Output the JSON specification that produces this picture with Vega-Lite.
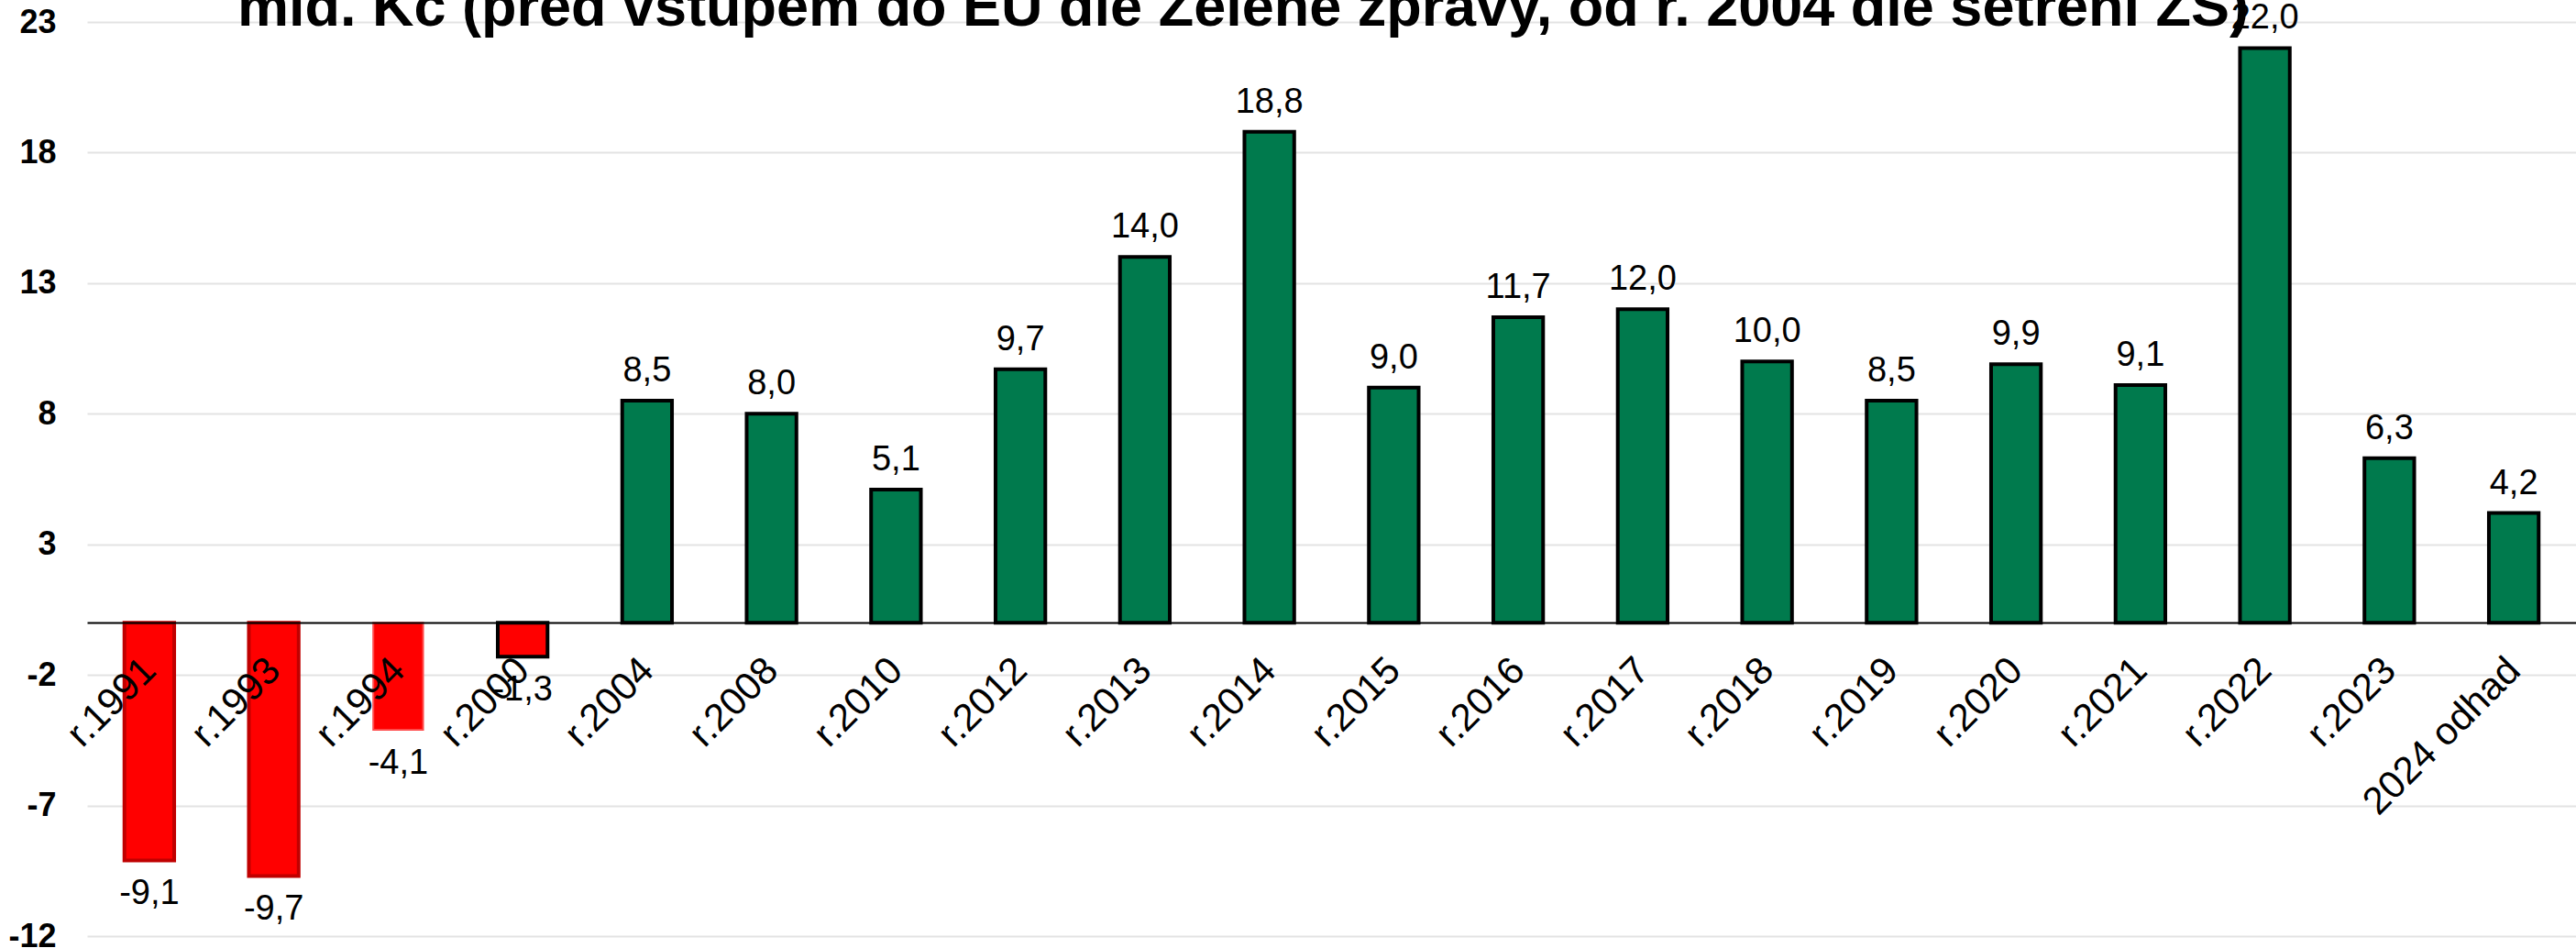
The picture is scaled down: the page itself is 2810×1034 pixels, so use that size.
{
  "$schema": "https://vega.github.io/schema/vega-lite/v6.json",
  "width": 2715,
  "height": 997,
  "autosize": {"type": "none"},
  "padding": {"left": 95, "top": 24, "right": 0, "bottom": 13},
  "background": "white",
  "title": {
    "text": "mld. Kč (před vstupem do EU dle Zelené zprávy, od r. 2004 dle šetření ZS)",
    "font": "Liberation Sans",
    "fontSize": 63,
    "fontWeight": "bold",
    "color": "black",
    "anchor": "start",
    "frame": "group",
    "dx": 164,
    "offset": -40,
    "baseline": "top"
  },
  "config": {
    "view": {"stroke": null},
    "font": "Liberation Sans",
    "locale": {
      "number": {"decimal": ",", "thousands": " ", "grouping": [3], "currency": ["", " Kč"], "minus": "-"}
    }
  },
  "data": {
    "values": [
      {"rok": "r.1991", "hodnota": -9.1},
      {"rok": "r.1993", "hodnota": -9.7},
      {"rok": "r.1994", "hodnota": -4.1},
      {"rok": "r.2000", "hodnota": -1.3},
      {"rok": "r.2004", "hodnota": 8.5},
      {"rok": "r.2008", "hodnota": 8.0},
      {"rok": "r.2010", "hodnota": 5.1},
      {"rok": "r.2012", "hodnota": 9.7},
      {"rok": "r.2013", "hodnota": 14.0},
      {"rok": "r.2014", "hodnota": 18.8},
      {"rok": "r.2015", "hodnota": 9.0},
      {"rok": "r.2016", "hodnota": 11.7},
      {"rok": "r.2017", "hodnota": 12.0},
      {"rok": "r.2018", "hodnota": 10.0},
      {"rok": "r.2019", "hodnota": 8.5},
      {"rok": "r.2020", "hodnota": 9.9},
      {"rok": "r.2021", "hodnota": 9.1},
      {"rok": "r.2022", "hodnota": 22.0},
      {"rok": "r.2023", "hodnota": 6.3},
      {"rok": "2024 odhad", "hodnota": 4.2}
    ]
  },
  "encoding": {
    "x": {
      "field": "rok",
      "type": "nominal",
      "sort": null,
      "scale": {"paddingInner": 0.6, "paddingOuter": 0.3},
      "axis": {
        "title": null,
        "orient": "bottom",
        "offset": -342,
        "zindex": 1,
        "ticks": false,
        "domain": true,
        "domainColor": "black",
        "domainWidth": 2,
        "labelAngle": -45,
        "labelAlign": "right",
        "labelBaseline": "top",
        "labelPadding": 31,
        "labelOffset": -14,
        "labelFont": "Liberation Sans",
        "labelFontSize": 42,
        "labelColor": "black",
        "labelOverlap": false,
        "labelLimit": 0
      }
    }
  },
  "layer": [
    {
      "mark": {"type": "bar"},
      "encoding": {
        "y": {
          "field": "hodnota",
          "type": "quantitative",
          "scale": {"domain": [-12, 23], "nice": false, "zero": false},
          "axis": {
            "title": null,
            "values": [-12, -7, -2, 3, 8, 13, 18, 23],
            "grid": true,
            "gridColor": "#E3E3E3",
            "gridWidth": 2,
            "ticks": false,
            "domain": false,
            "labelPadding": 34,
            "labelFont": "Liberation Sans",
            "labelFontSize": 36,
            "labelFontWeight": "bold",
            "labelColor": "black",
            "zindex": 0
          }
        },
        "y2": {"datum": 0},
        "fill": {"condition": {"test": "datum.hodnota < 0", "value": "#FF0000"}, "value": "#007A4D"},
        "stroke": {
          "condition": [
            {"test": "datum.hodnota > 0 || datum.rok === 'r.2000'", "value": "#000000"},
            {"test": "datum.rok === 'r.1994'", "value": "#FF4A4A"}
          ],
          "value": "#C00000"
        },
        "strokeWidth": {"condition": {"test": "datum.rok === 'r.1994'", "value": 2}, "value": 4}
      }
    },
    {
      "transform": [{"filter": "datum.hodnota > 0"}],
      "mark": {"type": "text", "baseline": "alphabetic", "dy": -21, "fontSize": 38, "font": "Liberation Sans", "color": "black"},
      "encoding": {
        "y": {"field": "hodnota", "type": "quantitative"},
        "text": {"field": "hodnota", "type": "quantitative", "format": ".1f"}
      }
    },
    {
      "transform": [{"filter": "datum.hodnota < 0"}],
      "mark": {"type": "text", "baseline": "top", "dy": 18, "fontSize": 38, "font": "Liberation Sans", "color": "black"},
      "encoding": {
        "y": {"field": "hodnota", "type": "quantitative"},
        "text": {"field": "hodnota", "type": "quantitative", "format": ".1f"}
      }
    }
  ]
}
